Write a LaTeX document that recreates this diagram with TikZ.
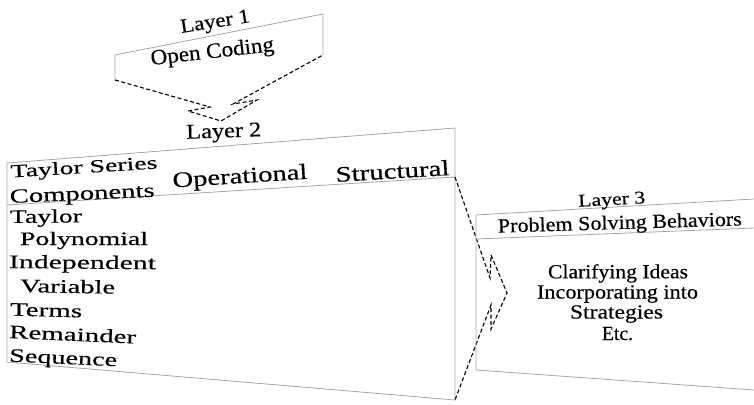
\documentclass[tikz,border=0pt]{standalone}
\usepackage{fontspec}
\setmainfont{Liberation Serif}[FakeBold=0.4]
\usepackage{graphicx}
\definecolor{edgegray}{RGB}{165,165,165}
% scale a text horizontally to a given width (pt) and vertically by a factor
\newsavebox\fitbox
\newcommand\fitw[3]{\sbox\fitbox{#3}\pgfmathsetmacro\fitratio{#1/\the\wd\fitbox}\scalebox{\fitratio}[#2]{\usebox\fitbox}}
\begin{document}
\begin{tikzpicture}[x=1pt,y=-1pt,
  panel/.style={draw=edgegray,line width=0.8pt,line join=miter},
  flow/.style={draw=black,line width=1.1pt,dash pattern=on 4pt off 2.5pt,line join=miter},
  lbl/.style={inner sep=0pt,outer sep=0pt,anchor=base,font=\fontsize{20}{24}\selectfont},
  lblw/.style={lbl,anchor=base west}]
\useasboundingbox (0,0) rectangle (754,404);

% ---- corner points of the three layers
\coordinate (a1) at (115,80);  \coordinate (a2) at (115,55);
\coordinate (a3) at (323,14);  \coordinate (a4) at (323,55);
\coordinate (b1) at (7,163);   \coordinate (b2) at (455,128);
\coordinate (b3) at (455,400); \coordinate (b4) at (7,362);
\coordinate (b5) at (7,205);   \coordinate (b6) at (455,177);
\coordinate (c1) at (476,215); \coordinate (c2) at (754,199);
\coordinate (c3) at (476,239); \coordinate (c4) at (754,228);
\coordinate (c5) at (476,370); \coordinate (c6) at (754,390);

% ---- layer 1
\draw[panel] (a1) -- (a2) -- (a3) -- (a4);
\node[lbl,rotate=9] (t1) at (216,27.5) {\fitw{70}{1.0}{Layer 1}};
\node[lbl,rotate=6.5] (h1) at (213,58) {\fitw{124}{1.08}{Open Coding}};

% chevron from layer 1 down to layer 2
\coordinate (p1) at (210,107); \coordinate (p2) at (188,111);
\coordinate (p3) at (221,121); \coordinate (p4) at (257,100);
\coordinate (p5) at (233,104);
\draw[flow] (a1) -- (p1) -- (p2) -- (p3) -- (p4) -- (p5) -- (a4);

% ---- layer 2
\draw[panel] (b1) -- (b2) -- (b3) -- (b4) -- cycle;
\draw[panel] (b5) -- (b6);
\node[lbl,rotate=2] (t2) at (224,137.5) {\fitw{75}{1.05}{Layer 2}};
\node[lblw,rotate=3.5] (h2a) at (11,177.5) {\fitw{147}{0.92}{Taylor Series}};
\node[lblw,rotate=2.5] (h2b) at (10,203) {\fitw{145}{1.0}{Components}};
\node[lblw,rotate=3.7] (h2c) at (173,187.5) {\fitw{135}{1.1}{Operational}};
\node[lblw,rotate=3.5] (h2d) at (336,182) {\fitw{114}{1.1}{Structural}};
\node[lblw,rotate=0.5]  (i1) at (10,223)  {\fitw{72}{0.95}{Taylor}};
\node[lblw]             (i2) at (20,245)  {\fitw{128}{0.95}{Polynomial}};
\node[lblw,rotate=-0.5] (i3) at (9,268)   {\fitw{147}{0.95}{Independent}};
\node[lblw,rotate=-1]   (i4) at (20,292)  {\fitw{95}{0.95}{Variable}};
\node[lblw,rotate=-1.5] (i5) at (10,315.5){\fitw{72}{0.95}{Terms}};
\node[lblw,rotate=-2.5] (i6) at (9,338)   {\fitw{127}{0.95}{Remainder}};
\node[lblw,rotate=-2.5] (i7) at (9,361.5) {\fitw{108}{0.95}{Sequence}};

% arrow from layer 2 into layer 3
\coordinate (q1) at (490,278); \coordinate (q2) at (491,255);
\coordinate (q3) at (507,293); \coordinate (q4) at (491,329);
\coordinate (q5) at (491,305);
\draw[flow] (b6) -- (q1) -- (q2) -- (q3) -- (q4) -- (q5) -- (b3);

% ---- layer 3
\draw[panel] (c2) -- (c1) -- (c5) -- (c6);
\draw[panel] (c3) -- (c4);
\node[lbl,rotate=3] (t3) at (612,205) {\fitw{67}{0.9}{Layer 3}};
\node[lbl,rotate=1.7] (h3) at (620,229) {\fitw{244}{1.0}{Problem Solving Behaviors}};
\node[lbl] (j1) at (618,278.3) {\fitw{140}{1.0}{Clarifying Ideas}};
\node[lbl] (j2) at (617.5,298.5) {\fitw{161}{1.0}{Incorporating into}};
\node[lbl] (j3) at (616.5,318.5) {\fitw{93}{1.0}{Strategies}};
\node[lbl] (j4) at (617.5,340) {\fitw{31}{1.0}{Etc.}};
\end{tikzpicture}
\end{document}
